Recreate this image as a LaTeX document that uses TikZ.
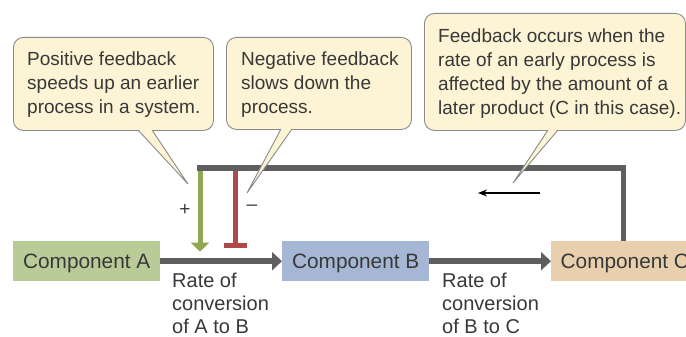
\documentclass[tikz,border=0pt]{standalone}
\usepackage{fontspec}
\setmainfont{Liberation Sans}
\usetikzlibrary{arrows.meta,positioning}

\definecolor{compA}{HTML}{B9CC98}
\definecolor{compB}{HTML}{A6B7D6}
\definecolor{compC}{HTML}{E8D0AE}
\definecolor{flowgray}{HTML}{5F5F5F}
\definecolor{posgreen}{HTML}{8EA951}
\definecolor{negred}{HTML}{AE4A4A}
\definecolor{notecream}{HTML}{FCF4D4}
\definecolor{noteline}{HTML}{8A8A8A}
\definecolor{txtgray}{HTML}{383838}

\begin{document}
\begin{tikzpicture}[
    x=1pt, y=-1pt,
    comp/.style={anchor=north west, minimum width=147pt, minimum height=40pt,
        inner xsep=9.5pt, text height=14.9pt, text depth=0pt,
        text=txtgray, font=\fontsize{20.8}{24}\selectfont},
    rate/.style={anchor=north west, inner sep=0pt, align=left,
        text=txtgray, font=\fontsize{20}{23}\selectfont},
    notebox/.style={anchor=north west, draw=noteline, fill=notecream,
        line width=0.9pt, rounded corners=10pt, inner sep=0pt},
    notetext/.style={anchor=north west, inner sep=0pt, align=left,
        text=txtgray, font=\fontsize{19}{24}\selectfont},
    flow/.style={draw=flowgray, line width=5.5pt,
        -{Triangle[length=10pt,width=18pt]}},
    loopline/.style={draw=flowgray, line width=5.5pt, line join=miter},
    sign/.style={inner sep=0pt, text=txtgray, font=\fontsize{19}{19}\selectfont}
]
\useasboundingbox (0,0) rectangle (686,337);

% Components along the chain
\node[comp, fill=compA] (A) at (13,241) {Component A};
\node[comp, fill=compB] (B) at (282,241) {Component B};
\node[comp, fill=compC, minimum width=0pt] (C) at (551,241) {Component C};

% Conversion arrows
\draw[flow] (A) -- (B);
\draw[flow] (B) -- (C);

\node[rate] (rateAB) at (172,272.5) {Rate of\\conversion\\of A to B};
\node[rate] (rateBC) at (442,272.5) {Rate of\\conversion\\of B to C};

% Feedback loop from C back to the first step
\coordinate (fbCorner) at (623.5,168);
\coordinate (fbEnd) at (197.3,168);
\coordinate (posTop) at (200,168);
\coordinate (posEnd) at (200,251.7);
\coordinate (negTop) at (235.5,168);
\coordinate (negEnd) at (235.5,248);

\draw[draw=posgreen, line width=5pt, -{Triangle[length=9pt,width=18pt]}] (posTop) -- (posEnd);
\draw[draw=negred, line width=5pt, -{Bar[width=23pt]}] (negTop) -- (negEnd);
\draw[loopline] (C.north west -| fbCorner) -- (fbCorner) -- (fbEnd);

\node[sign] (plus) at (185,210) {+};
\node[sign] (minus) at (252,208) {–};

% Direction of feedback
\coordinate (dirR) at (540,193);
\coordinate (dirL) at (478,193);
\draw[line width=1.2pt, -{Stealth[length=9pt,width=7pt]}] (dirR) -- (dirL);

% Callouts
\coordinate (tipPos) at (188,184);
\coordinate (tipNeg) at (247,193);
\coordinate (tipFb) at (513,183);

\node[notebox, minimum width=200pt, minimum height=93pt] (notePos) at (13,37) {};
\fill[notecream] (138,129) -- (tipPos) -- (152,129) -- cycle;
\draw[noteline, line width=0.9pt] (138,130) -- (tipPos) -- (152,130);
\node[notetext] (notePosText) at (27,51.1) {Positive feedback\\speeds up an earlier\\process in a system.};

\node[notebox, minimum width=185pt, minimum height=92pt] (noteNeg) at (226,37) {};
\fill[notecream] (281,128) -- (tipNeg) -- (292,128) -- cycle;
\draw[noteline, line width=0.9pt] (281,129) -- (tipNeg) -- (292,129);
\node[notetext] (noteNegText) at (241,51.1) {Negative feedback\\slows down the\\process.};

\node[notebox, minimum width=261pt, minimum height=117pt] (noteFb) at (424,13) {};
\fill[notecream] (548,129) -- (tipFb) -- (558,129) -- cycle;
\draw[noteline, line width=0.9pt] (548,130) -- (tipFb) -- (558,130);
\node[notetext] (noteFbText) at (438,28.1) {Feedback occurs when the\\rate of an early process is\\affected by the amount of a\\later product (C in this case).};

\end{tikzpicture}
\end{document}
